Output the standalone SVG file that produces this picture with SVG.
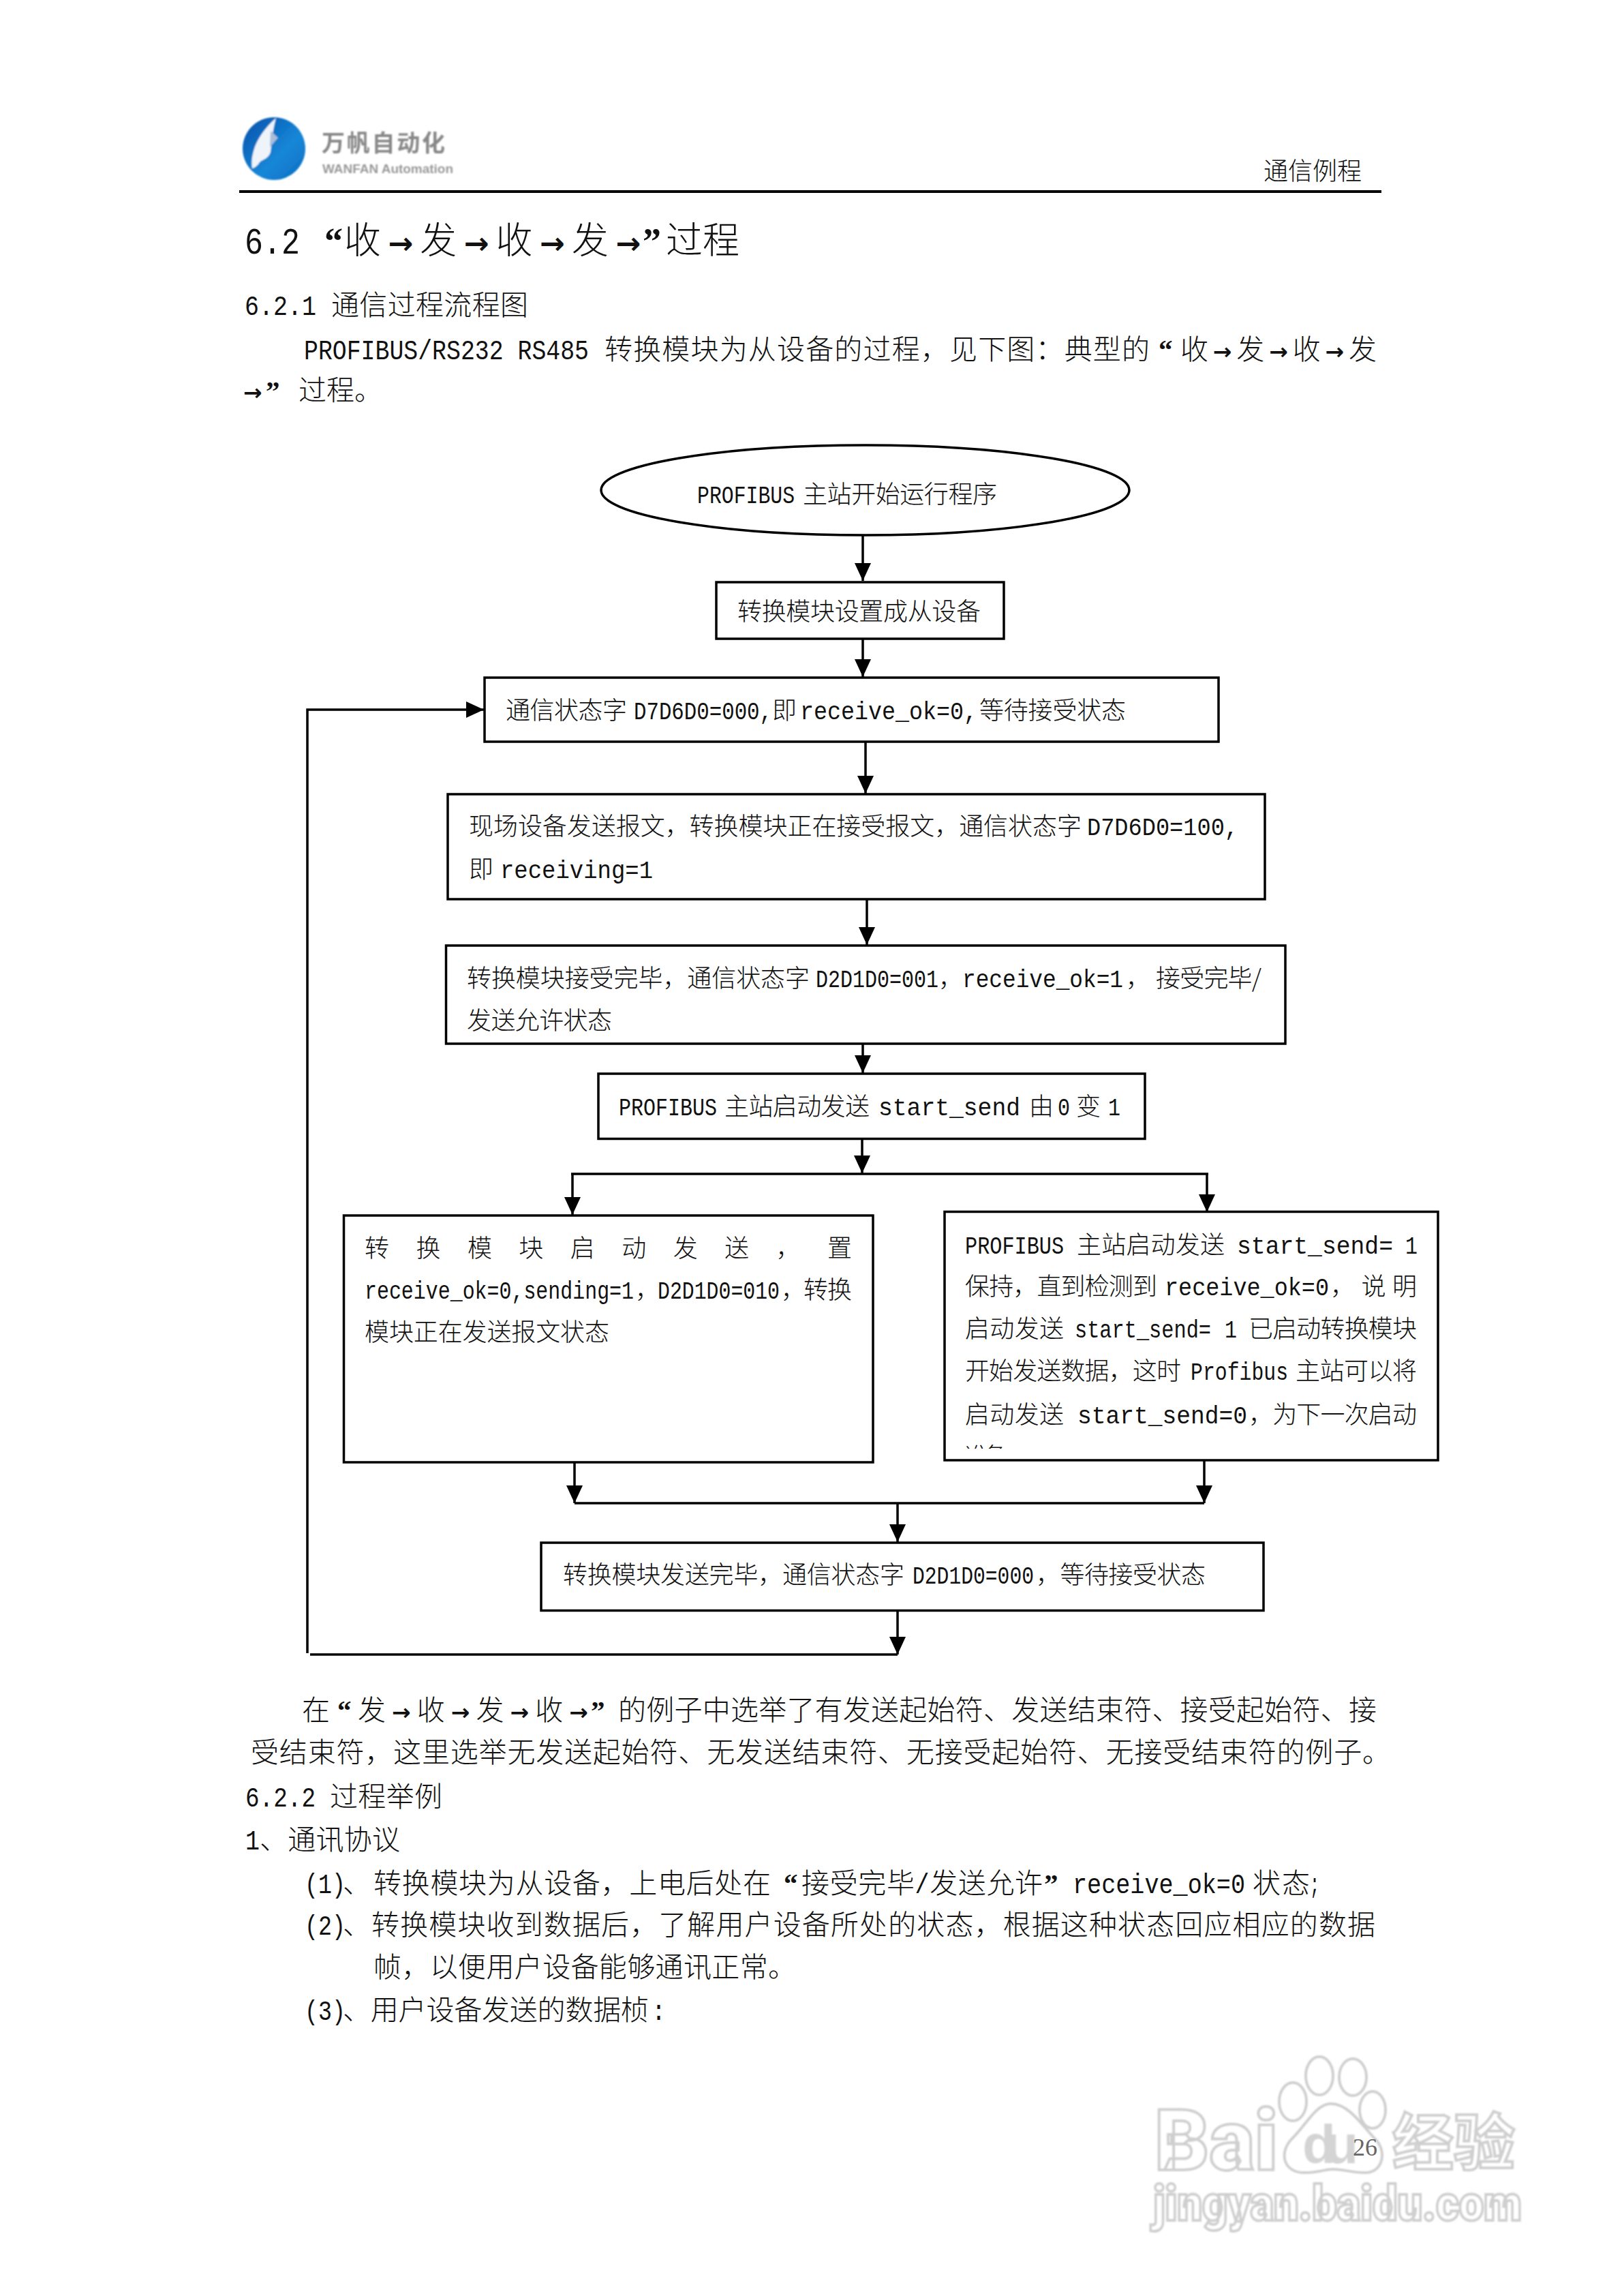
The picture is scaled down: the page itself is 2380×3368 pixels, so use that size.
<svg xmlns="http://www.w3.org/2000/svg" width="2380" height="3368" viewBox="0 0 2380 3368">
<defs>
<style>
text{font-family:"Noto Sans CJK SC","Noto Sans CJK JP",sans-serif;fill:#111;font-weight:300}
.m{font-family:"Liberation Mono","Noto Sans CJK SC",monospace;font-weight:400}
.a{font-family:"DejaVu Sans",sans-serif;font-weight:700}
.q{font-family:"Liberation Serif",serif;font-weight:700}
.t{font-size:54px}.b{font-size:41px}.d{font-size:36px}
.n{fill:#fff;stroke:#000;stroke-width:3.5}
.c{fill:none;stroke:#000;stroke-width:3.5}
.ca{fill:none;stroke:#000;stroke-width:3.5;marker-end:url(#ah)}
.wm{fill:#fff;stroke:#cfcfcf;stroke-width:4;font-family:Roboto,"Liberation Sans",sans-serif;font-weight:900}
.wc{font-family:"Noto Sans CJK SC",sans-serif;font-weight:700}
</style>
<marker id="ah" markerUnits="userSpaceOnUse" markerWidth="28" markerHeight="26" refX="26" refY="12" orient="auto"><path d="M0 0L26 12L0 24Z" fill="#000"/></marker>
<linearGradient id="lg" x1="0" y1="0" x2="1" y2="1"><stop offset="0" stop-color="#0a4fa8"/><stop offset=".6" stop-color="#1487d8"/><stop offset="1" stop-color="#0f6cc0"/></linearGradient>
<clipPath id="clipR"><rect x="1390" y="2100" width="700" height="25"/></clipPath>
<filter id="soft" x="-5%" y="-5%" width="110%" height="110%"><feGaussianBlur stdDeviation="1"/></filter>
</defs>
<rect width="2380" height="3368" fill="#fff"/>

<g id="watermark" filter="url(#soft)">
<text class="wm" x="1694" y="3183" font-size="125" textLength="181" lengthAdjust="spacingAndGlyphs">Bai</text>
<ellipse class="wm" cx="1897" cy="3083" rx="20" ry="28"/>
<ellipse class="wm" cx="1936" cy="3045" rx="20" ry="28"/>
<ellipse class="wm" cx="1985" cy="3047" rx="20" ry="27"/>
<ellipse class="wm" cx="2014" cy="3095" rx="19" ry="27"/>
<path class="wm" d="M1953 3086C1930 3086 1915 3120 1895 3138C1875 3160 1885 3188 1915 3187C1935 3187 1945 3182 1955 3182C1975 3182 1985 3188 2005 3187C2028 3186 2035 3158 2020 3140C2000 3120 1980 3086 1953 3086Z"/>
<text x="1911" y="3173" font-size="80" textLength="82" style="font-family:'Liberation Sans',sans-serif;font-weight:700;fill:#d4d4d4">du</text>
<text class="wm wc" x="2043" y="3175" font-size="90" textLength="180">经验</text>
<text class="wm" x="1692" y="3257" font-size="72" textLength="541" lengthAdjust="spacingAndGlyphs">jingyan.baidu.com</text>
</g>

<g id="header">
<g filter="url(#soft)">
<circle cx="402" cy="218" r="46" fill="url(#lg)"/>
<path d="M405 173C390 186 376 205 372 222C369 232 369 240 370 247C374 246 378 243 381 238C386 233 394 233 397 223C399 210 399 195 405 173Z" fill="#eef4fa"/>
<path d="M397 192L408 202L396 216Z" fill="#a9bcd8"/>
<text x="472" y="222" font-size="34" textLength="181" style="fill:#888;font-weight:700">万帆自动化</text>
<text x="473" y="254" font-size="19" textLength="192" style="font-family:'Liberation Sans',sans-serif;fill:#999;font-weight:700">WANFAN Automation</text>
</g>
<text class="d" x="1854" y="264" textLength="144">通信例程</text>
<line x1="351" y1="281" x2="2027" y2="281" stroke="#000" stroke-width="4"/>
</g>

<g id="intro">
<text class="t" y="372"><tspan class="m" x="359" textLength="81" lengthAdjust="spacingAndGlyphs">6.2</tspan><tspan class="q" x="476">“</tspan><tspan x="505" textLength="435">收<tspan class="a" font-size="44">→</tspan>发<tspan class="a" font-size="44">→</tspan>收<tspan class="a" font-size="44">→</tspan>发<tspan class="a" font-size="44">→</tspan></tspan><tspan class="q" x="943">”</tspan><tspan x="977">过程</tspan></text>
<text class="b" y="462"><tspan class="m" x="359" textLength="105" lengthAdjust="spacingAndGlyphs">6.2.1</tspan><tspan x="486" textLength="289">通信过程流程图</tspan></text>
<text class="b" y="527"><tspan class="m" x="446" textLength="418" lengthAdjust="spacingAndGlyphs">PROFIBUS/RS232 RS485</tspan><tspan x="887" textLength="800">转换模块为从设备的过程，见下图：典型的</tspan><tspan class="q" x="1700">“</tspan><tspan x="1732" textLength="288">收<tspan class="a" font-size="33">→</tspan>发<tspan class="a" font-size="33">→</tspan>收<tspan class="a" font-size="33">→</tspan>发</tspan></text>
<text class="b" y="587"><tspan x="357" class="a" font-size="33">→</tspan><tspan class="q" x="390">”</tspan><tspan x="438">过程。</tspan></text>
</g>

<g id="connectors">
<line class="ca" x1="1266" y1="785" x2="1266" y2="852"/>
<line class="ca" x1="1266" y1="937" x2="1266" y2="993"/>
<line class="ca" x1="1270" y1="1088" x2="1270" y2="1164"/>
<line class="ca" x1="1272" y1="1316" x2="1272" y2="1386"/>
<line class="ca" x1="1266" y1="1531" x2="1266" y2="1574"/>
<line class="ca" x1="1265" y1="1670" x2="1265" y2="1721"/>
<line class="c" x1="838" y1="1722" x2="1773" y2="1722"/>
<line class="ca" x1="840" y1="1722" x2="840" y2="1782"/>
<line class="ca" x1="1771" y1="1722" x2="1771" y2="1778"/>
<line class="ca" x1="843" y1="2145" x2="843" y2="2205"/>
<line class="ca" x1="1767" y1="2142" x2="1767" y2="2205"/>
<line class="c" x1="843" y1="2205" x2="1767" y2="2205"/>
<line class="ca" x1="1317" y1="2205" x2="1317" y2="2262"/>
<line class="ca" x1="1317" y1="2363" x2="1317" y2="2427"/>
<line class="c" x1="1317" y1="2427" x2="455" y2="2427"/>
<polyline class="ca" points="451,2425 451,1041 710,1041"/>
</g>

<g id="n1"><ellipse class="n" cx="1269.5" cy="719" rx="387.5" ry="66"/>
<text class="d" y="738"><tspan class="m" x="1023" textLength="143" lengthAdjust="spacingAndGlyphs">PROFIBUS</tspan><tspan x="1178" textLength="285">主站开始运行程序</tspan></text></g>
<g id="n2"><rect class="n" x="1051" y="854" width="422" height="83"/>
<text class="d" x="1082" y="910" textLength="357">转换模块设置成从设备</text></g>
<g id="n3"><rect class="n" x="711" y="994" width="1077" height="94"/>
<text class="d" y="1055"><tspan x="742" textLength="178">通信状态字</tspan><tspan class="m" x="930" textLength="203" lengthAdjust="spacingAndGlyphs">D7D6D0=000,</tspan><tspan x="1133">即</tspan><tspan class="m" x="1174" textLength="260" lengthAdjust="spacingAndGlyphs">receive_ok=0,</tspan><tspan x="1437" textLength="215">等待接受状态</tspan></text></g>
<g id="n4"><rect class="n" x="657" y="1165" width="1199" height="154"/>
<text class="d" y="1225"><tspan x="688" textLength="899">现场设备发送报文，转换模块正在接受报文，通信状态字</tspan><tspan class="m" x="1595" textLength="222" lengthAdjust="spacingAndGlyphs">D7D6D0=100,</tspan></text>
<text class="d" y="1288"><tspan x="688">即</tspan><tspan class="m" x="734" textLength="224" lengthAdjust="spacingAndGlyphs">receiving=1</tspan></text></g>
<g id="n5"><rect class="n" x="654.5" y="1387" width="1231.5" height="144"/>
<text class="d" y="1448"><tspan x="685" textLength="503">转换模块接受完毕，通信状态字</tspan><tspan class="m" x="1197" textLength="180" lengthAdjust="spacingAndGlyphs">D2D1D0=001</tspan><tspan x="1377">，</tspan><tspan class="m" x="1412" textLength="236" lengthAdjust="spacingAndGlyphs">receive_ok=1</tspan><tspan x="1652">，</tspan><tspan x="1696" textLength="155">接受完毕/</tspan></text>
<text class="d" x="685" y="1510" textLength="213">发送允许状态</text></g>
<g id="n6"><rect class="n" x="878" y="1575" width="802" height="95.5"/>
<text class="d" y="1636"><tspan class="m" x="908" textLength="144" lengthAdjust="spacingAndGlyphs">PROFIBUS</tspan><tspan x="1063" textLength="213">主站启动发送</tspan><tspan class="m" x="1289" textLength="208" lengthAdjust="spacingAndGlyphs">start_send</tspan><tspan x="1510">由</tspan><tspan class="m" x="1552" textLength="18" lengthAdjust="spacingAndGlyphs">0</tspan><tspan x="1579">变</tspan><tspan class="m" x="1626" textLength="18" lengthAdjust="spacingAndGlyphs">1</tspan></text></g>
<g id="n7"><rect class="n" x="504.5" y="1783" width="776.5" height="362"/>
<text class="d" x="535" y="1844" textLength="715">转换模块启动发送，置</text>
<text class="d" y="1905"><tspan class="m" x="535" textLength="395" lengthAdjust="spacingAndGlyphs">receive_ok=0,sending=1</tspan><tspan x="932">，</tspan><tspan class="m" x="965" textLength="179" lengthAdjust="spacingAndGlyphs">D2D1D0=010</tspan><tspan x="1146">，</tspan><tspan x="1179" textLength="71">转换</tspan></text>
<text class="d" x="535" y="1967" textLength="359">模块正在发送报文状态</text></g>
<g id="n8"><rect class="n" x="1386" y="1777.5" width="724" height="364.5"/>
<text class="d" y="1839"><tspan class="m" x="1416" textLength="145" lengthAdjust="spacingAndGlyphs">PROFIBUS</tspan><tspan x="1580" textLength="217">主站启动发送</tspan><tspan class="m" x="1815" textLength="229" lengthAdjust="spacingAndGlyphs">start_send=</tspan><tspan class="m" x="2062" textLength="18" lengthAdjust="spacingAndGlyphs">1</tspan></text>
<text class="d" y="1900"><tspan x="1416" textLength="282">保持，直到检测到</tspan><tspan class="m" x="1709" textLength="241" lengthAdjust="spacingAndGlyphs">receive_ok=0</tspan><tspan x="1952" textLength="127">，说明</tspan></text>
<text class="d" y="1962"><tspan x="1416" textLength="145">启动发送</tspan><tspan class="m" x="1577" textLength="200" lengthAdjust="spacingAndGlyphs">start_send=</tspan><tspan class="m" x="1797" textLength="18" lengthAdjust="spacingAndGlyphs">1</tspan><tspan x="1832" textLength="247">已启动转换模块</tspan></text>
<text class="d" y="2024"><tspan x="1416" textLength="317">开始发送数据，这时</tspan><tspan class="m" x="1747" textLength="143" lengthAdjust="spacingAndGlyphs">Profibus</tspan><tspan x="1901" textLength="178">主站可以将</tspan></text>
<text class="d" y="2088"><tspan x="1416" textLength="145">启动发送</tspan><tspan class="m" x="1581" textLength="249" lengthAdjust="spacingAndGlyphs">start_send=0</tspan><tspan x="1832" textLength="247">，为下一次启动</tspan></text>
<g clip-path="url(#clipR)"><text class="d" x="1416" y="2150" textLength="62">准备</text></g></g>
<g id="n9"><rect class="n" x="794" y="2263" width="1060" height="99.5"/>
<text class="d" y="2323"><tspan x="826" textLength="501">转换模块发送完毕，通信状态字</tspan><tspan class="m" x="1339" textLength="178" lengthAdjust="spacingAndGlyphs">D2D1D0=000</tspan><tspan x="1520" textLength="249">，等待接受状态</tspan></text></g>

<g id="body">
<text class="b" y="2523"><tspan x="443">在</tspan><tspan class="q" x="495">“</tspan><tspan x="525" textLength="338">发<tspan class="a" font-size="33">→</tspan>收<tspan class="a" font-size="33">→</tspan>发<tspan class="a" font-size="33">→</tspan>收<tspan class="a" font-size="33">→</tspan></tspan><tspan class="q" x="867">”</tspan><tspan x="907" textLength="1113">的例子中选举了有发送起始符、发送结束符、接受起始符、接</tspan></text>
<text class="b" x="368" y="2585" textLength="1672">受结束符，这里选举无发送起始符、无发送结束符、无接受起始符、无接受结束符的例子。</text>
<text class="b" y="2650"><tspan class="m" x="360" textLength="103" lengthAdjust="spacingAndGlyphs">6.2.2</tspan><tspan x="484" textLength="165">过程举例</tspan></text>
<text class="b" y="2713"><tspan class="m" x="360" textLength="21" lengthAdjust="spacingAndGlyphs">1</tspan><tspan x="381" textLength="206">、通讯协议</tspan></text>
<text class="b" y="2777"><tspan class="m" x="447" textLength="60" lengthAdjust="spacingAndGlyphs">(1)</tspan><tspan x="503">、</tspan><tspan x="548" textLength="583">转换模块为从设备，上电后处在</tspan><tspan class="q" x="1150">“</tspan><tspan x="1176" textLength="354">接受完毕<tspan class="m" textLength="21" lengthAdjust="spacingAndGlyphs">/</tspan>发送允许</tspan><tspan class="q" x="1532">”</tspan><tspan class="m" x="1574" textLength="253" lengthAdjust="spacingAndGlyphs">receive_ok=0</tspan><tspan x="1838" textLength="84">状态</tspan><tspan class="m" x="1922" textLength="14" lengthAdjust="spacingAndGlyphs">;</tspan></text>
<text class="b" y="2838"><tspan class="m" x="447" textLength="60" lengthAdjust="spacingAndGlyphs">(2)</tspan><tspan x="503" textLength="1515">、转换模块收到数据后，了解用户设备所处的状态，根据这种状态回应相应的数据</tspan></text>
<text class="b" x="548" y="2900" textLength="620">帧，以便用户设备能够通讯正常。</text>
<text class="b" y="2963"><tspan class="m" x="447" textLength="60" lengthAdjust="spacingAndGlyphs">(3)</tspan><tspan x="503" textLength="449">、用户设备发送的数据桢</tspan><tspan class="m" x="956" textLength="21" lengthAdjust="spacingAndGlyphs">:</tspan></text>
</g>
<text x="1985" y="3162" font-size="36" style="font-family:'Liberation Serif',serif;fill:#666">26</text>
</svg>
